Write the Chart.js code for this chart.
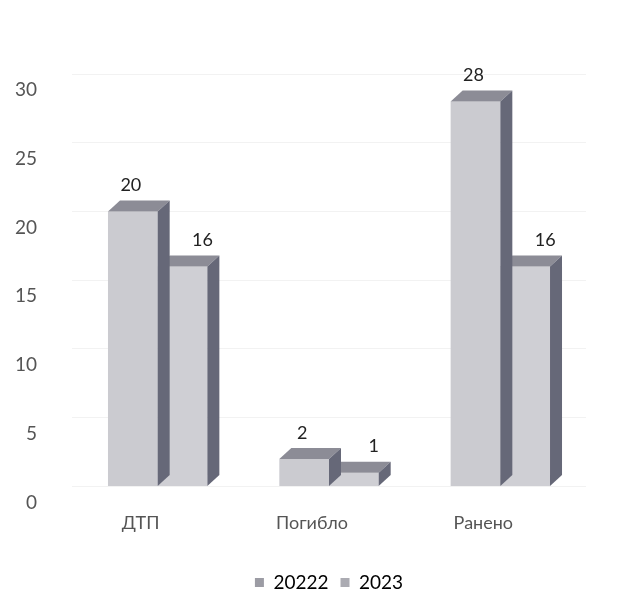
<!DOCTYPE html>
<html lang="ru">
<head>
    <meta charset="UTF-8">
    <title>ДТП 2022 / 2023</title>
    <script src="https://cdn.jsdelivr.net/npm/chart.js"></script>
    <style>
        html, body { margin: 0; padding: 0; background: #fff; }
        #wrap { width: 642px; height: 592px; }
    </style>
</head>
<body>
    <div id="wrap"><canvas id="chart"></canvas></div>

    <script>
        // данные с графика
        const categories = ['ДТП', 'Погибло', 'Ранено'];
        const seriesNames = ['20222', '2023'];
        const values2022 = [20, 2, 28];
        const values2023 = [16, 1, 16];
        const yTicks = [0, 5, 10, 15, 20, 25, 30];

        const depthX = 12, depthY = 11;
        const labelShift = [-2, 20]; // подписи 2023 в оригинале правее
        const fontFamily = 'Lato, "Liberation Sans", sans-serif';

        // псевдо-3D: верхняя и боковая грани поверх плоских столбцов
        const bars3d = {
            id: 'bars3d',
            afterLayout(chart) {
                // легенда в оригинале сдвинута вправо
                chart.legend.left += 36;
                chart.legend.right += 36;
                chart.legend.top += 1;
                chart.legend.bottom += 1;
            },
            afterDatasetDraw(chart, args) {
                const ctx = chart.ctx;
                ctx.save();
                args.meta.data.forEach(bar => {
                    const p = bar.getProps(['x', 'y', 'base', 'width'], true);
                    const l = p.x - p.width / 2, r = p.x + p.width / 2;
                    // верх
                    ctx.fillStyle = '#8c8c96';
                    ctx.beginPath();
                    ctx.moveTo(l, p.y);
                    ctx.lineTo(l + depthX, p.y - depthY);
                    ctx.lineTo(r + depthX, p.y - depthY);
                    ctx.lineTo(r, p.y);
                    ctx.closePath();
                    ctx.fill();
                    // бок
                    ctx.fillStyle = '#666878';
                    ctx.beginPath();
                    ctx.moveTo(r, p.y);
                    ctx.lineTo(r + depthX, p.y - depthY);
                    ctx.lineTo(r + depthX, p.base - depthY);
                    ctx.lineTo(r, p.base);
                    ctx.closePath();
                    ctx.fill();
                });
                ctx.restore();
            },
            afterDatasetsDraw(chart) {
                const ctx = chart.ctx;
                ctx.save();
                ctx.font = '18px ' + fontFamily;
                ctx.fillStyle = '#222';
                ctx.textAlign = 'center';
                ctx.textBaseline = 'bottom';
                chart.data.datasets.forEach((ds, i) => {
                    chart.getDatasetMeta(i).data.forEach((bar, j) => {
                        const p = bar.getProps(['x', 'y'], true);
                        ctx.fillText(String(ds.data[j]), p.x + labelShift[i], p.y - depthY - 6);
                    });
                });
                ctx.restore();
            }
        };

        new Chart(document.getElementById('chart'), {
            type: 'bar',
            data: {
                labels: categories,
                datasets: [
                    {
                        label: seriesNames[0],
                        data: values2022,
                        backgroundColor: '#cbcbd0',
                        barPercentage: 1,
                        categoryPercentage: 0.58
                    },
                    {
                        label: seriesNames[1],
                        data: values2023,
                        backgroundColor: '#cfcfd4',
                        barPercentage: 1,
                        categoryPercentage: 0.58
                    }
                ]
            },
            options: {
                responsive: true,
                maintainAspectRatio: false,
                animation: false,
                layout: { padding: { left: 0, right: 56, top: 74, bottom: -9 } },
                plugins: {
                    tooltip: { enabled: false },
                    legend: {
                        position: 'bottom',
                        labels: {
                            boxWidth: 9,
                            boxHeight: 9,
                            padding: 12,
                            color: '#555',
                            font: { family: fontFamily, size: 19 },
                            generateLabels(chart) {
                                return chart.data.datasets.map((ds, i) => ({
                                    text: ds.label,
                                    fillStyle: i === 0 ? '#9c9ca4' : '#ababb2',
                                    strokeStyle: 'transparent',
                                    lineWidth: 0,
                                    datasetIndex: i
                                }));
                            }
                        }
                    }
                },
                scales: {
                    x: {
                        grid: { display: false, drawTicks: false },
                        border: { display: false },
                        ticks: {
                            color: '#555',
                            padding: 26,
                            labelOffset: -17,
                            font: { family: fontFamily, size: 18 }
                        }
                    },
                    y: {
                        min: 0,
                        max: 30,
                        afterBuildTicks(scale) {
                            scale.ticks = yTicks.map(v => ({ value: v }));
                        },
                        afterFit(scale) {
                            scale.width = 72;
                        },
                        grid: { color: '#f2f2f2', drawTicks: false },
                        border: { display: false },
                        ticks: {
                            color: '#555',
                            padding: 35,
                            labelOffset: 16,
                            font: { family: fontFamily, size: 19 }
                        }
                    }
                }
            },
            plugins: [bars3d]
        });
    </script>
</body>
</html>
